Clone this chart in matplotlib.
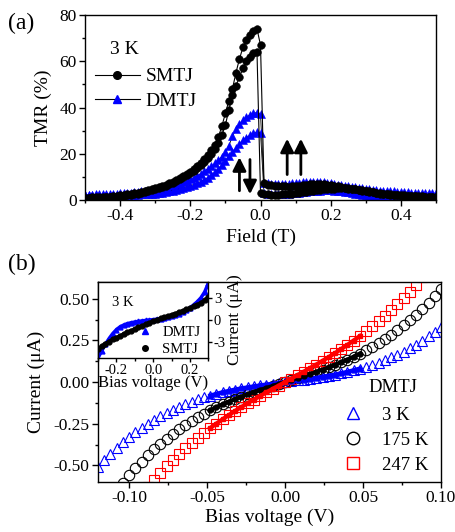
import numpy as np
import matplotlib.pyplot as plt
from matplotlib.ticker import MultipleLocator, FormatStrFormatter
from matplotlib.lines import Line2D

plt.rcParams['font.family'] = ['Liberation Serif', 'DejaVu Serif']
plt.rcParams['axes.unicode_minus'] = False
plt.rcParams['axes.linewidth'] = 1.0

# ---------------- (a) TMR loops at 3 K ----------------
field_mT = [-500, -490, -480, -470, -460, -450, -440, -430, -420, -410,
            -400, -390, -380, -370, -360, -350, -340, -330, -320, -310,
            -300, -290, -280, -270, -260, -250, -240, -230, -220, -210,
            -200, -190, -180, -170, -160, -150, -140, -130, -120, -110,
            -100, -90, -80, -70, -60, -50, -40, -30, -20, -10,
            0, 10, 20, 30, 40, 50, 60, 70, 80, 90,
            100, 110, 120, 130, 140, 150, 160, 170, 180, 190,
            200, 210, 220, 230, 240, 250, 260, 270, 280, 290,
            300, 310, 320, 330, 340, 350, 360, 370, 380, 390,
            400, 410, 420, 430, 440, 450, 460, 470, 480, 490, 500]

smtj_a = [1.0, 1.0, 1.1, 1.1, 1.2, 1.3, 1.4, 1.5, 1.6, 1.8,
          2.0, 2.2, 2.4, 2.6, 2.9, 3.2, 3.5, 3.8, 4.2, 4.6,
          5.0, 5.5, 6.0, 6.6, 7.3, 8.0, 8.7, 9.5, 10.4, 11.3,
          12.3, 13.4, 14.6, 16.0, 17.6, 19.4, 21.5, 24.0, 27.2, 32.0,
          37.5, 43.0, 48.0, 55.0, 61.0, 66.0, 69.0, 71.5, 73.0, 74.0,
          67.0, 7.5, 6.5, 6.3, 6.1, 6.0, 5.9, 5.9, 5.8, 5.9,
          6.0, 6.2, 6.4, 6.6, 6.8, 6.9, 6.9, 6.9, 6.8, 6.6,
          6.4, 6.2, 6.0, 5.7, 5.3, 5.0, 4.8, 4.6, 4.3, 4.0,
          3.7, 3.5, 3.3, 3.1, 2.9, 2.7, 2.6, 2.4, 2.3, 2.2,
          2.1, 2.0, 1.9, 1.8, 1.7, 1.7, 1.6, 1.5, 1.5, 1.4, 1.4]

smtj_b = [0.8, 0.8, 0.9, 0.9, 1.0, 1.0, 1.1, 1.2, 1.3, 1.4,
          1.6, 1.8, 2.0, 2.2, 2.5, 2.8, 3.1, 3.4, 3.8, 4.2,
          4.6, 5.1, 5.6, 6.2, 6.8, 7.5, 8.2, 9.0, 9.8, 10.7,
          11.6, 12.6, 13.7, 15.0, 16.4, 18.0, 19.8, 22.0, 24.5, 28.0,
          32.5, 39.0, 45.5, 49.5, 53.0, 57.0, 60.0, 62.0, 63.5, 64.0,
          3.0, 2.6, 2.4, 2.3, 2.3, 2.3, 2.4, 2.5, 2.6, 2.8,
          3.0, 3.2, 3.4, 3.6, 3.8, 4.0, 4.2, 4.4, 4.6, 4.7,
          4.8, 4.9, 5.0, 5.0, 5.0, 4.9, 4.8, 4.6, 4.4, 4.2,
          4.0, 3.7, 3.4, 3.1, 2.8, 2.6, 2.4, 2.2, 2.1, 2.0,
          1.9, 1.8, 1.7, 1.6, 1.6, 1.5, 1.5, 1.4, 1.4, 1.3, 1.3]

dmtj_a = [2.3, 2.3, 2.3, 2.4, 2.4, 2.5, 2.5, 2.6, 2.7, 2.8,
          2.9, 3.0, 3.1, 3.2, 3.4, 3.5, 3.7, 3.9, 4.1, 4.3,
          4.5, 4.8, 5.1, 5.4, 5.8, 6.2, 6.6, 7.1, 7.7, 8.3,
          9.0, 9.7, 10.5, 11.4, 12.4, 13.5, 14.6, 15.8, 17.2, 18.8,
          20.8, 23.5, 27.5, 30.5, 32.8, 34.5, 35.8, 36.8, 37.5, 37.8,
          37.0, 7.5, 7.2, 7.0, 6.9, 6.9, 6.9, 7.0, 7.1, 7.2,
          7.4, 7.5, 7.7, 7.8, 7.9, 7.9, 7.9, 7.8, 7.7, 7.5,
          7.3, 7.0, 6.7, 6.4, 6.1, 5.9, 5.7, 5.5, 5.2, 5.0,
          4.8, 4.6, 4.4, 4.3, 4.1, 4.0, 3.9, 3.8, 3.7, 3.6,
          3.5, 3.4, 3.3, 3.2, 3.1, 3.1, 3.0, 3.0, 2.9, 2.9, 2.9]

dmtj_b = [2.2, 2.2, 2.2, 2.2, 2.2, 2.2, 2.2, 2.2, 2.2, 2.2,
          2.2, 2.2, 2.2, 2.2, 2.3, 2.3, 2.4, 2.5, 2.6, 2.7,
          2.8, 3.0, 3.2, 3.5, 3.8, 4.1, 4.4, 4.8, 5.2, 5.7,
          6.2, 6.7, 7.3, 8.0, 8.8, 9.7, 10.8, 12.0, 13.5, 15.2,
          17.0, 19.0, 20.8, 22.5, 24.2, 25.8, 27.0, 28.0, 28.8, 29.3,
          29.0, 3.0, 2.7, 2.6, 2.6, 2.6, 2.6, 2.7, 2.8, 2.9,
          3.0, 3.2, 3.4, 3.6, 3.8, 3.9, 4.0, 4.1, 4.2, 4.2,
          4.2, 4.1, 4.0, 3.8, 3.6, 3.3, 3.0, 2.7, 2.4, 2.2,
          2.0, 1.8, 1.7, 1.6, 1.5, 1.4, 1.4, 1.4, 1.4, 1.4,
          1.5, 1.5, 1.6, 1.7, 1.8, 1.9, 2.0, 2.1, 2.1, 2.2, 2.2]

# ---------------- (b) I-V curves of the DMTJ ----------------
bias_mV = [-120, -116, -112, -108, -104, -100, -96, -92, -88, -84,
           -80, -76, -72, -68, -64, -60, -56, -52, -48, -44,
           -40, -36, -32, -28, -24, -20, -16, -12, -8, -4,
           0, 4, 8, 12, 16, 20, 24, 28, 32, 36,
           40, 44, 48, 52, 56, 60, 64, 68, 72, 76,
           80, 84, 88, 92, 96, 100]

iv_3K = [-0.507, -0.467, -0.430, -0.394, -0.361, -0.330, -0.301, -0.274, -0.249, -0.225,
         -0.204, -0.183, -0.165, -0.148, -0.132, -0.117, -0.104, -0.092, -0.081, -0.071,
         -0.061, -0.053, -0.045, -0.038, -0.032, -0.026, -0.020, -0.015, -0.010, -0.005,
         0.0, 0.005, 0.010, 0.015, 0.020, 0.026, 0.032, 0.038, 0.045, 0.053,
         0.061, 0.071, 0.081, 0.092, 0.104, 0.117, 0.132, 0.148, 0.165, 0.183,
         0.204, 0.225, 0.249, 0.274, 0.301, 0.330]

iv_175K = [-0.813, -0.757, -0.703, -0.653, -0.605, -0.560, -0.518, -0.477, -0.440, -0.404,
           -0.371, -0.340, -0.311, -0.283, -0.258, -0.233, -0.211, -0.190, -0.170, -0.152,
           -0.134, -0.118, -0.103, -0.088, -0.074, -0.061, -0.048, -0.036, -0.024, -0.012,
           0.0, 0.012, 0.024, 0.036, 0.048, 0.061, 0.074, 0.088, 0.103, 0.118,
           0.134, 0.152, 0.170, 0.190, 0.211, 0.233, 0.258, 0.283, 0.311, 0.340,
           0.371, 0.404, 0.440, 0.477, 0.518, 0.560]

iv_247K = [-1.060, -0.997, -0.936, -0.879, -0.823, -0.771, -0.721, -0.673, -0.628, -0.585,
           -0.543, -0.504, -0.467, -0.431, -0.397, -0.365, -0.334, -0.304, -0.276, -0.249,
           -0.223, -0.198, -0.173, -0.150, -0.127, -0.105, -0.084, -0.062, -0.041, -0.021,
           0.0, 0.021, 0.041, 0.062, 0.084, 0.105, 0.127, 0.150, 0.173, 0.198,
           0.223, 0.249, 0.276, 0.304, 0.334, 0.365, 0.397, 0.431, 0.467, 0.504,
           0.543, 0.585, 0.628, 0.673, 0.721, 0.771]

# inset: 3 K, wide bias range, current in uA
inset_mV = [-300, -280, -260, -240, -220, -200, -180, -160, -140, -120,
            -100, -80, -60, -40, -20, 0, 20, 40, 60, 80,
            100, 120, 140, 160, 180, 200, 220, 240, 260, 280, 300]
inset_dmtj = [-5.3, -4.3, -3.4, -2.6, -1.9, -1.35, -0.95, -0.7, -0.5, -0.38,
              -0.28, -0.2, -0.12, -0.06, 0.0, 0.05, 0.12, 0.2, 0.3, 0.42,
              0.56, 0.72, 0.9, 1.12, 1.38, 1.7, 2.1, 2.55, 3.1, 3.9, 5.1]
inset_smtj = [-4.0, -3.65, -3.3, -3.0, -2.7, -2.45, -2.2, -1.95, -1.7, -1.48,
              -1.26, -1.04, -0.82, -0.6, -0.38, -0.15, 0.05, 0.22, 0.38, 0.55,
              0.72, 0.9, 1.08, 1.27, 1.47, 1.68, 1.9, 2.15, 2.42, 2.75, 3.2]

W, H = 455, 532
fig = plt.figure(figsize=(W / 100, H / 100), dpi=100)
ax1 = fig.add_axes([85 / W, 1 - 200 / H, 351 / W, 185 / H])
ax2 = fig.add_axes([98 / W, 1 - 482 / H, 343 / W, 200 / H])
ax3 = fig.add_axes([98 / W, 1 - 358 / H, 110.3 / W, 76 / H])


def style_ticks(ax, size):
    ax.tick_params(which='both', direction='out', top=False, right=False,
                   width=1.0, labelsize=size, pad=2)
    ax.tick_params(which='major', length=4)
    ax.tick_params(which='minor', length=2.5)


# ---- panel (a)
field = np.array(field_mT) / 1000.0
for y in (dmtj_a, dmtj_b):
    ax1.plot(field, y, color='k', lw=0.6, marker='^', ms=5.5,
             mfc='b', mec='b', mew=0.4)
for y in (smtj_a, smtj_b):
    ax1.plot(field, y, color='k', lw=0.8, marker='o', ms=5.5,
             mfc='k', mec='k', mew=0.4)

arrow = dict(arrowstyle='-|>', color='k', lw=2, mutation_scale=20,
             shrinkA=0, shrinkB=0)
ax1.annotate('', xy=(-0.060, 18.5), xytext=(-0.060, 4.0), arrowprops=arrow)
ax1.annotate('', xy=(-0.030, 2.5), xytext=(-0.030, 17.5), arrowprops=arrow)
ax1.annotate('', xy=(0.076, 26.5), xytext=(0.076, 11.0), arrowprops=arrow)
ax1.annotate('', xy=(0.115, 26.5), xytext=(0.115, 11.0), arrowprops=arrow)

ax1.set_xlim(-0.5, 0.5)
ax1.set_ylim(0, 80)
ax1.xaxis.set_major_locator(MultipleLocator(0.2))
ax1.xaxis.set_minor_locator(MultipleLocator(0.1))
ax1.xaxis.set_major_formatter(FormatStrFormatter('%.1f'))
ax1.yaxis.set_major_locator(MultipleLocator(20))
ax1.yaxis.set_minor_locator(MultipleLocator(10))
style_ticks(ax1, 12.5)
ax1.set_xlabel('Field (T)', fontsize=14, labelpad=3)
ax1.set_ylabel('TMR (%)', fontsize=14, labelpad=5)

ax1.text(-0.428, 65, '3 K', fontsize=14, va='center', ha='left')
h_s = Line2D([], [], color='k', lw=0.8, marker='o', ms=5.5, mfc='k', mec='k')
h_d = Line2D([], [], color='k', lw=0.8, marker='^', ms=5.5, mfc='b', mec='b')
ax1.legend([h_s, h_d], ['SMTJ', 'DMTJ'], loc='upper left',
           bbox_to_anchor=(0.028, 0.715), frameon=False, fontsize=14,
           handlelength=2.3, handletextpad=0.3, borderpad=0,
           borderaxespad=0, labelspacing=0.35, numpoints=1)

# ---- panel (b)
bias = np.array(bias_mV) / 1000.0
inner = np.abs(bias) <= 0.05
curves = [(iv_3K, 'b', '^', '3 K'), (iv_175K, 'k', 'o', '175 K'),
          (iv_247K, 'r', 's', '247 K')]
for cur, c, m, lab in curves:
    ax2.plot(bias, cur, ls='none', marker=m, ms=7.5, mfc='none', mec=c,
             mew=0.8)
for cur, c, m, lab in curves:
    ax2.plot(bias[inner], np.array(cur)[inner], color=c, lw=3, marker=m,
             ms=3.5, mfc=c, mec=c)

ax2.set_xlim(-0.12, 0.10)
ax2.set_ylim(-0.6, 0.6)
ax2.xaxis.set_major_locator(MultipleLocator(0.05))
ax2.xaxis.set_minor_locator(MultipleLocator(0.025))
ax2.xaxis.set_major_formatter(FormatStrFormatter('%.2f'))
ax2.yaxis.set_major_locator(MultipleLocator(0.25))
ax2.yaxis.set_minor_locator(MultipleLocator(0.125))
ax2.yaxis.set_major_formatter(FormatStrFormatter('%.2f'))
style_ticks(ax2, 12.5)
ax2.set_xlabel('Bias voltage (V)', fontsize=14, labelpad=2)
ax2.set_ylabel('Current (\u03bcA)', fontsize=14, labelpad=6)

ax2.text(0.0532, -0.03, 'DMTJ', fontsize=13.5, va='center', ha='left')
handles = [Line2D([], [], ls='none', marker=m, ms=9, mfc='none', mec=c,
                  mew=1.0) for cur, c, m, lab in curves]
ax2.legend(handles, [lab for *_, lab in curves], loc='lower right',
           bbox_to_anchor=(0.962, 0.04), frameon=False, fontsize=13.5,
           handlelength=1.6, handletextpad=0.75, borderpad=0,
           borderaxespad=0, labelspacing=0.42)

# ---- inset
vin = np.array(inset_mV) / 1000.0
ax3.plot(vin, inset_dmtj, color='b', lw=2.5, marker='^', ms=3.5,
         mfc='b', mec='b')
ax3.plot(vin, inset_smtj, color='k', lw=2.5, marker='o', ms=3.5,
         mfc='k', mec='k')
ax3.set_xlim(-0.3, 0.3)
ax3.set_ylim(-5.3, 5.3)
ax3.xaxis.set_major_locator(MultipleLocator(0.2))
ax3.xaxis.set_minor_locator(MultipleLocator(0.1))
ax3.xaxis.set_major_formatter(FormatStrFormatter('%.1f'))
ax3.yaxis.set_major_locator(MultipleLocator(3))
ax3.yaxis.tick_right()
ax3.yaxis.set_label_position('right')
ax3.tick_params(which='both', direction='out', left=False, top=False,
                right=True, width=1.0, labelsize=10.5, pad=1)
ax3.tick_params(which='major', length=3)
ax3.tick_params(which='minor', length=2)
ax3.set_xlabel('Bias voltage (V)', fontsize=12, labelpad=-1)
ax3.set_ylabel('Current (\u03bcA)', fontsize=12.5, labelpad=1)
ax3.text(-0.225, 2.5, '3 K', fontsize=10.5, va='center', ha='left')
ih = [Line2D([], [], ls='none', marker='^', ms=4, mfc='b', mec='b'),
      Line2D([], [], ls='none', marker='o', ms=4, mfc='k', mec='k')]
ax3.legend(ih, ['DMTJ', 'SMTJ'], loc='lower right', bbox_to_anchor=(0.93, 0.03),
           frameon=False, fontsize=10.5, handlelength=0.8, handletextpad=0.8,
           borderpad=0, borderaxespad=0, labelspacing=0.25)

fig.text(8 / W, 1 - 23 / H, '(a)', fontsize=17, va='center', ha='left')
fig.text(8 / W, 1 - 264 / H, '(b)', fontsize=17, va='center', ha='left')

fig.savefig('out.png', dpi=100)
